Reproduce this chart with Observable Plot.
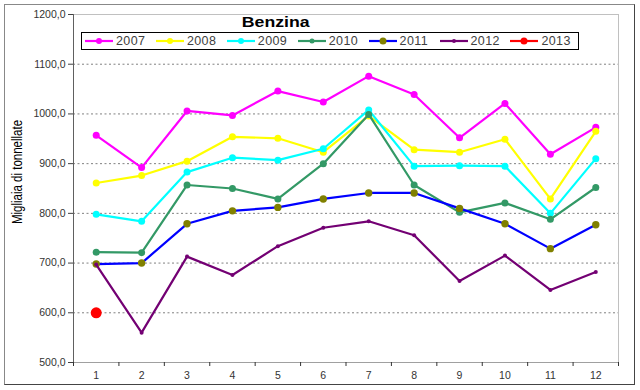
<!DOCTYPE html>
<html>
<head>
<meta charset="utf-8">
<script src="https://cdn.jsdelivr.net/npm/d3@7"></script>
<script src="https://cdn.jsdelivr.net/npm/@observablehq/plot@0.6"></script>
<style>
  html, body { margin: 0; padding: 0; background: #fff; }
  #wrap { position: relative; width: 640px; height: 390px; font-family: Arial, "Liberation Sans", sans-serif; }
  #frame { position: absolute; left: 4px; top: 4px; width: 629px; height: 379px; border: 1px solid #888; border-right-color: #444; border-bottom-color: #444; pointer-events: none; }
  #title { position: absolute; left: 176px; width: 200px; top: 13px; text-align: center; font-size: 15px; line-height: 17px; font-weight: bold; color: #000; }
  #title span { display: inline-block; transform: scaleX(1.18); }
  #legend { position: absolute; left: 81px; top: 32px; width: 496px; height: 16px; border: 1px solid #000; background: #fff; font-size: 12.5px; letter-spacing: 0.4px; color: #404040; }
  #legend .item { position: absolute; top: 0; height: 16px; display: flex; align-items: center; }
  #legend svg { display: block; margin-right: 3px; }
  #ylabel { position: absolute; left: 17px; top: 172px; width: 0; height: 0; }
  #ylabel span { position: absolute; white-space: nowrap; transform: translate(-50%, -50%) rotate(-90deg) scaleY(1.2); font-size: 11.5px; color: #000; }
  #plot { position: absolute; left: 0; top: 0; }
</style>
</head>
<body>
<div id="wrap">
  <div id="plot"></div>
  <div id="title"><span>Benzina</span></div>
  <div id="legend"></div>
  <div id="ylabel"><span>Migliaia di tonnellate</span></div>
  <div id="frame"></div>
</div>
<script>
// ---- data ----
const months = [1, 2, 3, 4, 5, 6, 7, 8, 9, 10, 11, 12];
const seriesNames = ["2007", "2008", "2009", "2010", "2011", "2012", "2013"];
const y2007 = [957, 892, 1006, 997, 1046, 1024, 1076, 1039, 952, 1021, 919, 973];
const y2008 = [861, 876, 905, 954, 951, 923, 996, 928, 923, 949, 829, 965];
const y2009 = [798, 784, 883, 912, 907, 930, 1008, 895, 896, 895, 800, 910];
const y2010 = [722, 721, 857, 850, 829, 900, 999, 857, 802, 821, 788, 852];
const y2011 = [698, 700, 779, 805, 812, 829, 841, 841, 810, 779, 729, 777];
const y2012 = [697, 560, 713, 676, 734, 771, 784, 756, 664, 715, 646, 682];
const y2013 = [600];
const yTicks = [500, 600, 700, 800, 900, 1000, 1100, 1200];
const gridTicks = [600, 700, 800, 900, 1000, 1100];

// ---- styles ----
const lineColors = ["#FF00FF", "#FFFF00", "#00FFFF", "#339966", "#0000FF", "#730073", "#FF0000"];
const markColors = ["#FF00FF", "#FFFF00", "#00FFFF", "#339966", "#808000", "#730073", "#FF0000"];
const markR = [3.5, 3.5, 3.5, 3.5, 3.7, 2, 5.5];
const legendR = [3, 3, 3, 2.5, 3.5, 2, 3.5];

const values = [y2007, y2008, y2009, y2010, y2011, y2012, y2013];
const series = seriesNames.map((name, i) => ({
  name, line: lineColors[i], mark: markColors[i], r: markR[i], lr: legendR[i],
  data: values[i].map((v, j) => ({month: months[j], value: v, year: name}))
}));

const fmt = d => d.toFixed(1).replace(".", ",");
const bounds = [0, ...months].map(m => m + 0.5);

const seriesMarks = series.flatMap(s => [
  Plot.line(s.data, {x: "month", y: "value", stroke: s.line, strokeWidth: 2.2}),
  Plot.dot(s.data, {x: "month", y: "value", fill: s.mark, stroke: "none", r: s.r})
]);

const chart = Plot.plot({
  width: 640,
  height: 390,
  marginLeft: 73,
  marginRight: 22,
  marginTop: 14,
  marginBottom: 28,
  style: {fontFamily: "Arial, 'Liberation Sans', sans-serif", background: "transparent", color: "#333"},
  x: {type: "linear", domain: [0.5, 12.5]},
  y: {domain: [500, 1200]},
  marks: [
    Plot.ruleY(gridTicks, {stroke: "#808080", strokeDasharray: "2,2.5", strokeWidth: 1}),
    Plot.ruleY([1200], {stroke: "#c0c0c0"}),
    Plot.ruleX([12.5], {stroke: "#c0c0c0"}),
    Plot.ruleY([500], {stroke: "#a0a0a0"}),
    Plot.ruleX([0.5], {stroke: "#606060"}),
    Plot.axisY({ticks: yTicks, tickFormat: fmt, tickSize: 5, tickPadding: 3, fontSize: 10.5, stroke: "#404040", label: null}),
    Plot.axisX({ticks: bounds, tickSize: 4, tickFormat: () => "", stroke: "#333", label: null}),
    Plot.axisX({ticks: months, tickSize: 0, tickPadding: 9, tickFormat: d => String(d), fontSize: 10.5, label: null}),
    ...seriesMarks
  ]
});
document.getElementById("plot").appendChild(chart);

// ---- legend ----
const legend = document.getElementById("legend");
const ns = "http://www.w3.org/2000/svg";
series.forEach((s, i) => {
  const item = document.createElement("div");
  item.className = "item";
  item.style.left = (3 + i * 70.9) + "px";
  const svg = document.createElementNS(ns, "svg");
  svg.setAttribute("width", 28); svg.setAttribute("height", 10);
  const ln = document.createElementNS(ns, "line");
  ln.setAttribute("x1", 0); ln.setAttribute("x2", 28); ln.setAttribute("y1", 5); ln.setAttribute("y2", 5);
  ln.setAttribute("stroke", s.line); ln.setAttribute("stroke-width", 2.2);
  const c = document.createElementNS(ns, "circle");
  c.setAttribute("cx", 14); c.setAttribute("cy", 5); c.setAttribute("r", s.lr);
  c.setAttribute("fill", s.mark);
  svg.appendChild(ln); svg.appendChild(c);
  const lab = document.createElement("span");
  lab.textContent = s.name;
  item.appendChild(svg); item.appendChild(lab);
  legend.appendChild(item);
});
</script>
</body>
</html>
